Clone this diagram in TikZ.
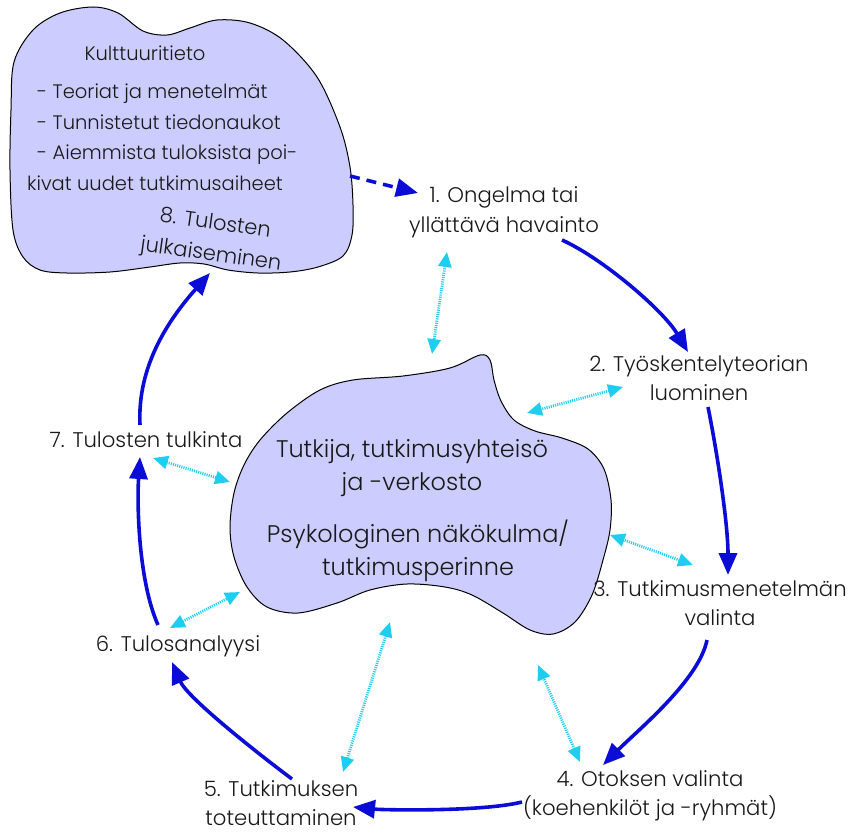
\documentclass[tikz,border=0pt]{standalone}
\usepackage{fontspec}
\IfFontExistsTF{Poppins Light}{\setmainfont{Poppins Light}}{\setmainfont{Poppins}}
\usetikzlibrary{arrows.meta,calc}
\definecolor{blobfill}{RGB}{204,204,255}
\definecolor{flowblue}{RGB}{12,12,215}
\definecolor{linkcyan}{RGB}{30,205,240}
\definecolor{txt}{RGB}{25,25,25}
\begin{document}
\begin{tikzpicture}[x=1pt,y=-1pt,
  blob/.style={draw=black,line width=1pt,fill=blobfill},
  lbl/.style={inner sep=0pt,align=center,text=txt,font=\fontsize{21.2}{29.5}\selectfont},
  blobtxt/.style={inner sep=0pt,align=center,text=txt,font=\fontsize{24}{33}\selectfont},
  cultxt/.style={inner sep=0pt,text=txt,font=\fontsize{19.5}{30.5}\selectfont},
  flow/.style={draw=flowblue,line width=3.6pt,-{Triangle[length=22pt,width=18pt]}},
  dflow/.style={flow,dash pattern=on 10pt off 7pt},
  link/.style={draw=linkcyan,line width=2.8pt,dash pattern=on 1.1pt off 1.1pt,
    {Triangle[length=15pt,width=13pt]}-{Triangle[length=15pt,width=13pt]}}]
\useasboundingbox (0,0) rectangle (848,832);

% blob 1: Kulttuuritieto
\path[blob] plot[smooth cycle,tension=0.55] coordinates {
 (11,110) (14,62) (33,30) (60,13) (93,7) (118,13) (143,31) (167,35)
 (190,28) (217,20) (250,23) (283,40) (317,77) (340,127) (350,167)
 (353,205) (352,235) (343,256) (318,267) (290,272) (258,273) (228,270)
 (204,264) (180,263) (150,267) (110,272) (67,273) (40,270) (23,257) (13,230) (10,170)};

% blob 2: Tutkija
\path[blob] plot[smooth cycle,tension=0.55] coordinates {
 (260,440) (287,413) (320,390) (353,380) (403,376) (450,368) (480,355)
 (490,360) (494,380) (501,401) (514,420) (535,431) (562,438) (588,449)
 (604,469) (611,500) (610,530) (603,560) (592,595) (575,622) (553,634)
 (530,630) (503,613) (472,595) (445,587) (407,584) (370,590) (337,603)
 (298,613) (267,607) (247,587) (234,557) (230,527) (234,493) (244,465)};

% texts in blobs
\node[cultxt] (kt) at (145,53) {Kulttuuritieto};
\node[cultxt,align=left,anchor=west] (ktl) at (37,137.5)
 {- Teoriat ja menetelmät\\- Tunnistetut tiedonaukot\\- Aiemmista tuloksista poi-\\\hspace*{-10pt}kivat uudet tutkimusaiheet};
\node[cultxt,font=\fontsize{21}{31}\selectfont,align=center,rotate=-8] (n8) at (213,240) {8. Tulosten\\julkaiseminen};
\node[blobtxt] (c1) at (412,468) {Tutkija, tutkimusyhteisö\\ja -verkosto};
\node[blobtxt] (c2) at (418,551) {Psykologinen näkökulma/\\tutkimusperinne};

% outer labels
\node[lbl] (n1) at (504,212.5) {1. Ongelma tai\\yllättävä havainto};
\node[lbl] (n2) at (699,378) {2. Työskentelyteorian\\luominen};
\node[lbl] (n3) at (720,603) {3. Tutkimusmenetelmän\\valinta};
\node[lbl] (n4) at (650,796) {4. Otoksen valinta\\(koehenkilöt ja -ryhmät)};
\node[lbl] (n5) at (281,803) {5. Tutkimuksen\\toteuttaminen};
\node[lbl] (n6) at (178,646) {6. Tulosanalyysi};
\node[lbl] (n7) at (146,440) {7. Tulosten tulkinta};

% contact points on the blobs
\coordinate (b1e) at (350,176);
\coordinate (b2n) at (432,354);
\coordinate (b2ne) at (527,413);
\coordinate (b2e) at (610,535);
\coordinate (b2se) at (538,665);
\coordinate (b2s) at (390,622);
\coordinate (b2sw) at (240,592);
\coordinate (b2w) at (230,482);

% flow arrows
\draw[dflow] (b1e) -- ($(n1)+(-86,-19.5)$);
\draw[flow] ($(n1)+(58,27.5)$) .. controls +(40,18) and +(-25,-42) .. ($(n2)+(-11,-26)$);
\draw[flow] ($(n2)+(9,29)$) .. controls +(10,50) and +(0,-50) .. ($(n3)+(8,-28)$);
\draw[flow] ($(n3)+(-13,37)$) .. controls +(-8,40) and +(35,-35) .. ($(n4)+(-47,-31)$);
\draw[flow] ($(n4)+(-128,6)$) .. controls +(-40,10) and +(30,3) .. ($(n5)+(72,4)$);
\draw[flow] ($(n5)+(11,-24)$) .. controls +(-40,-30) and +(15,35) .. ($(n6)+(-6,16)$);
\draw[flow] ($(n6)+(-20,-21)$) .. controls +(-20,-45) and +(-3,45) .. ($(n7)+(-6,17)$);
\draw[flow] ($(n7)+(-6,-15)$) .. controls +(-3,-60) and +(-40,45) .. ($(n8)+(-3,33)$);

% links to the researcher blob
\draw[link] ($(n1)+(-57,39.5)$) -- (b2n);
\draw[link] ($(n2)+(-76,9)$) -- (b2ne);
\draw[link] ($(n3)+(-27,-38)$) -- (b2e);
\draw[link] ($(n4)+(-70,-34)$) -- (b2se);
\draw[link] ($(n5)+(62,-31)$) -- (b2s);
\draw[link] ($(n6)+(-8,-18)$) -- (b2sw);
\draw[link] ($(n7)+(7,18)$) -- (b2w);
\end{tikzpicture}
\end{document}
